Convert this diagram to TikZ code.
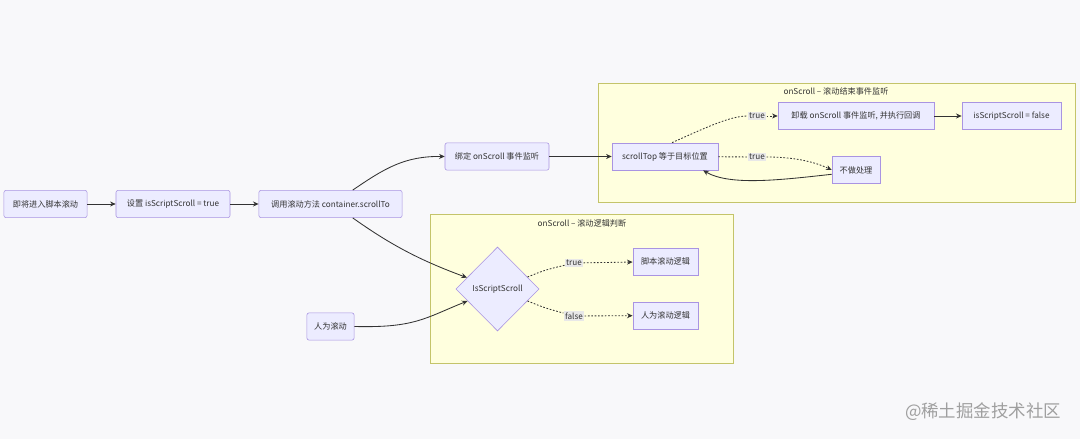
\documentclass[tikz,border=0pt]{standalone}
\usepackage{fontspec}
\setmainfont{Noto Sans CJK SC}
\usetikzlibrary{arrows.meta,shapes.geometric}

\definecolor{bgcol}{HTML}{F8F8FA}
\definecolor{nodefill}{HTML}{ECECFF}
\definecolor{nodeline}{HTML}{A994E2}
\definecolor{groupfill}{HTML}{FFFFDE}
\definecolor{groupline}{HTML}{C4C46A}
\definecolor{edgecol}{HTML}{333333}
\definecolor{lblfill}{HTML}{E8E8E8}

\begin{document}
\begin{tikzpicture}[x=0.025cm,y=-0.025cm,
    box/.style={draw=nodeline,fill=nodefill,text=edgecol,rounded corners=1.5pt,
        minimum height=0.68cm,inner sep=1pt,font=\fontsize{5.8}{7}\selectfont},
    group/.style={draw=groupline,fill=groupfill,inner sep=0pt},
    grouptitle/.style={text=edgecol,font=\fontsize{5.8}{7}\selectfont},
    lbl/.style={fill=lblfill,text=edgecol,inner sep=1pt,font=\fontsize{5.8}{7}\selectfont},
    flow/.style={draw=edgecol,line width=0.6pt,-{Stealth[length=4pt,width=3.6pt]}},
    dotflow/.style={draw=edgecol,line width=0.6pt,dash pattern=on 1.2pt off 1.2pt}]
    \useasboundingbox[fill=bgcol] (0,0) rectangle (1080,439);

    % Groups
    \node[group,minimum width=11.925cm,minimum height=2.975cm] (endgroup) at (836.5,142.5) {};
    \node[grouptitle] (endtitle) at (836,91) {onScroll – 滚动结束事件监听};
    \node[group,minimum width=7.575cm,minimum height=3.725cm] (judgegroup) at (581.5,288.5) {};
    \node[grouptitle] (judgetitle) at (582,223) {onScroll – 滚动逻辑判断};

    % Main line
    \node[box,minimum width=2.08cm] (enter) at (45.5,204) {即将进入脚本滚动};
    \node[box,minimum width=2.85cm] (setflag) at (173,204) {设置 isScriptScroll = true};
    \node[box,minimum width=3.58cm] (callscroll) at (330.5,204) {调用滚动方法 container.scrollTo};
    \node[box,minimum width=2.6cm] (bind) at (497,156.5) {绑定 onScroll 事件监听};
    \node[box,minimum width=1.18cm] (user) at (330.5,326.5) {人为滚动};

    % Scroll end listener
    \node[box,minimum width=2.65cm,rounded corners=0pt] (check) at (665,156.5) {scrollTop 等于目标位置};
    \node[box,minimum width=3.9cm,rounded corners=0pt] (unbind) at (856,116) {卸载 onScroll 事件监听, 并执行回调};
    \node[box,minimum width=2.48cm,rounded corners=0pt] (reset) at (1011.5,116) {isScriptScroll = false};
    \node[box,minimum width=1.2cm,rounded corners=0pt] (noop) at (856,170) {不做处理};

    % Scroll logic
    \node[box,diamond,minimum width=2.08cm,minimum height=2.1cm,inner sep=0pt,rounded corners=0pt] (decide) at (497.5,289) {IsScriptScroll};
    \node[box,minimum width=1.63cm,rounded corners=0pt] (scriptlogic) at (665.5,261.5) {脚本滚动逻辑};
    \node[box,minimum width=1.63cm,rounded corners=0pt] (userlogic) at (665.5,315.5) {人为滚动逻辑};

    % Edge labels
    \node[lbl] (t1) at (757,116) {true};
    \node[lbl] (t2) at (757,157) {true};
    \node[lbl] (t3) at (574,263) {true};
    \node[lbl] (t4) at (574,316) {false};

    % Solid connectors
    \draw[flow] (enter) -- (setflag);
    \draw[flow] (setflag) -- (callscroll);
    \draw[flow] (callscroll.32) .. controls (385,168) and (405,156) .. (bind.west);
    \draw[flow] (bind) -- (check);
    \draw[flow] (unbind) -- (reset);
    \draw[flow] (noop.190) .. controls (780,180) and (730,186) .. (check.-20);
    \draw[flow] (callscroll.-32) .. controls (395,248) and (425,262) .. (decide);
    \draw[flow] (user.east) .. controls (415,328) and (425,318) .. (decide);

    % Dotted connectors
    \draw[dotflow] (check.63) .. controls (705,128) and (730,116) .. (t1);
    \draw[dotflow,-{Stealth[length=4pt,width=3.6pt]}] (t1) -- (unbind);
    \draw[dotflow] (check) -- (t2);
    \draw[dotflow,-{Stealth[length=4pt,width=3.6pt]}] (t2) .. controls (795,157) and (815,162) .. (noop.west);
    \draw[dotflow] (decide) .. controls (545,270) .. (t3);
    \draw[dotflow,-{Stealth[length=4pt,width=3.6pt]}] (t3) -- (scriptlogic);
    \draw[dotflow] (decide) .. controls (545,308) .. (t4);
    \draw[dotflow,-{Stealth[length=4pt,width=3.6pt]}] (t4) -- (userlogic);

    % Watermark
    \node[text=gray!75,font=\fontsize{12.4}{14}\selectfont] (mark) at (983,412) {@稀土掘金技术社区};
\end{tikzpicture}
\end{document}
